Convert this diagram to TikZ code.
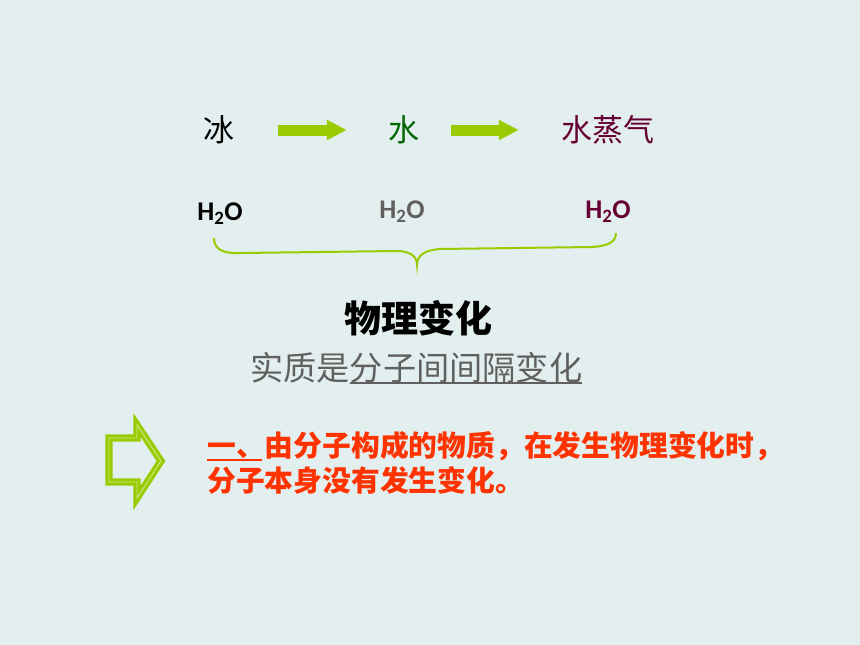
\documentclass[tikz,border=0pt]{standalone}
\usepackage{fontspec}
\newfontfamily\cjk{Noto Sans CJK SC}
\newfontfamily\lat{Carlito}
\usetikzlibrary{arrows.meta}
\definecolor{bg}{HTML}{E3EEEE}
\definecolor{lime}{HTML}{99CC00}
\definecolor{limelight}{HTML}{CFE88A}
\definecolor{dgreen}{HTML}{006600}
\definecolor{maroon}{HTML}{660033}
\definecolor{grayt}{HTML}{606060}
\definecolor{redt}{HTML}{FF3300}
\tikzset{
  cn/.style={inner sep=0pt, font=\cjk\fontsize{31}{36}\selectfont},
  ht/.style={inner sep=0pt, font=\lat\bfseries\fontsize{27}{30}\selectfont},
  blockarrow/.style={draw=lime, line width=11pt, -{Triangle[length=20pt,width=19pt]}},
  redline/.style={inner sep=0pt, anchor=base west, text=redt, font=\cjk\bfseries\fontsize{28.8}{34}\selectfont},
}
\begin{document}
\begin{tikzpicture}[x=1pt,y=-1pt]
\fill[bg] (0,0) rectangle (860,645);
\useasboundingbox (0,0) rectangle (860,645);
% top row
\node[cn] (ice) at (219,130) {冰};
\node[cn, text=dgreen] (water) at (404,130) {水};
\node[cn, text=maroon] (steam) at (608,130) {水蒸气};
\draw[blockarrow, shorten <=43.5pt, shorten >=41.5pt] (ice) -- (water);
\draw[blockarrow, shorten <=31.5pt, shorten >=42.5pt] (water) -- (steam);
% H2O row
\node[ht] (h1) at (220,214) {H\textsubscript{2}O};
\node[ht, text=grayt] (h2) at (402,212) {H\textsubscript{2}O};
\node[ht, text=maroon] (h3) at (608,212) {H\textsubscript{2}O};
% brace
\coordinate (bl) at (214,238);
\coordinate (bt) at (417,265);
\coordinate (br) at (616,233);
\draw[lime, line width=2pt] (bl) .. controls (214,250) and (224,254) .. (242,253)
  -- (396,251) .. controls (410,251) and (417,256) .. (bt)
  .. controls (417,256) and (424,250) .. (440,249)
  -- (592,247) .. controls (608,246) and (616,242) .. (br);
% labels
\node[inner sep=0pt, font=\cjk\bfseries\fontsize{37}{42}\selectfont] (phys) at (418,318) {物理变化};
\node[inner sep=0pt, anchor=base west, text=grayt, font=\cjk\fontsize{33.2}{38}\selectfont] (ess) at (250,380) {实质是分子间间隔变化};
\draw[grayt, line width=1.5pt] (350,383) -- (ess.base east |- 0,383);
% hollow arrow
\draw[lime, line width=3.2pt, double=limelight, double distance=0.9pt, line join=miter]
  (109,438) -- (137,438) -- (137,425) -- (161,461) -- (137,498) -- (137,482) -- (109,482) -- cycle;
% red text
\node[redline] (r1) at (207,456) {一、由分子构成的物质，在发生物理变化时，};
\node[redline] (r2) at (207,491) {分子本身没有发生变化。};
\draw[redt, line width=1.2pt] (207,460) -- (262,460);
\end{tikzpicture}
\end{document}
